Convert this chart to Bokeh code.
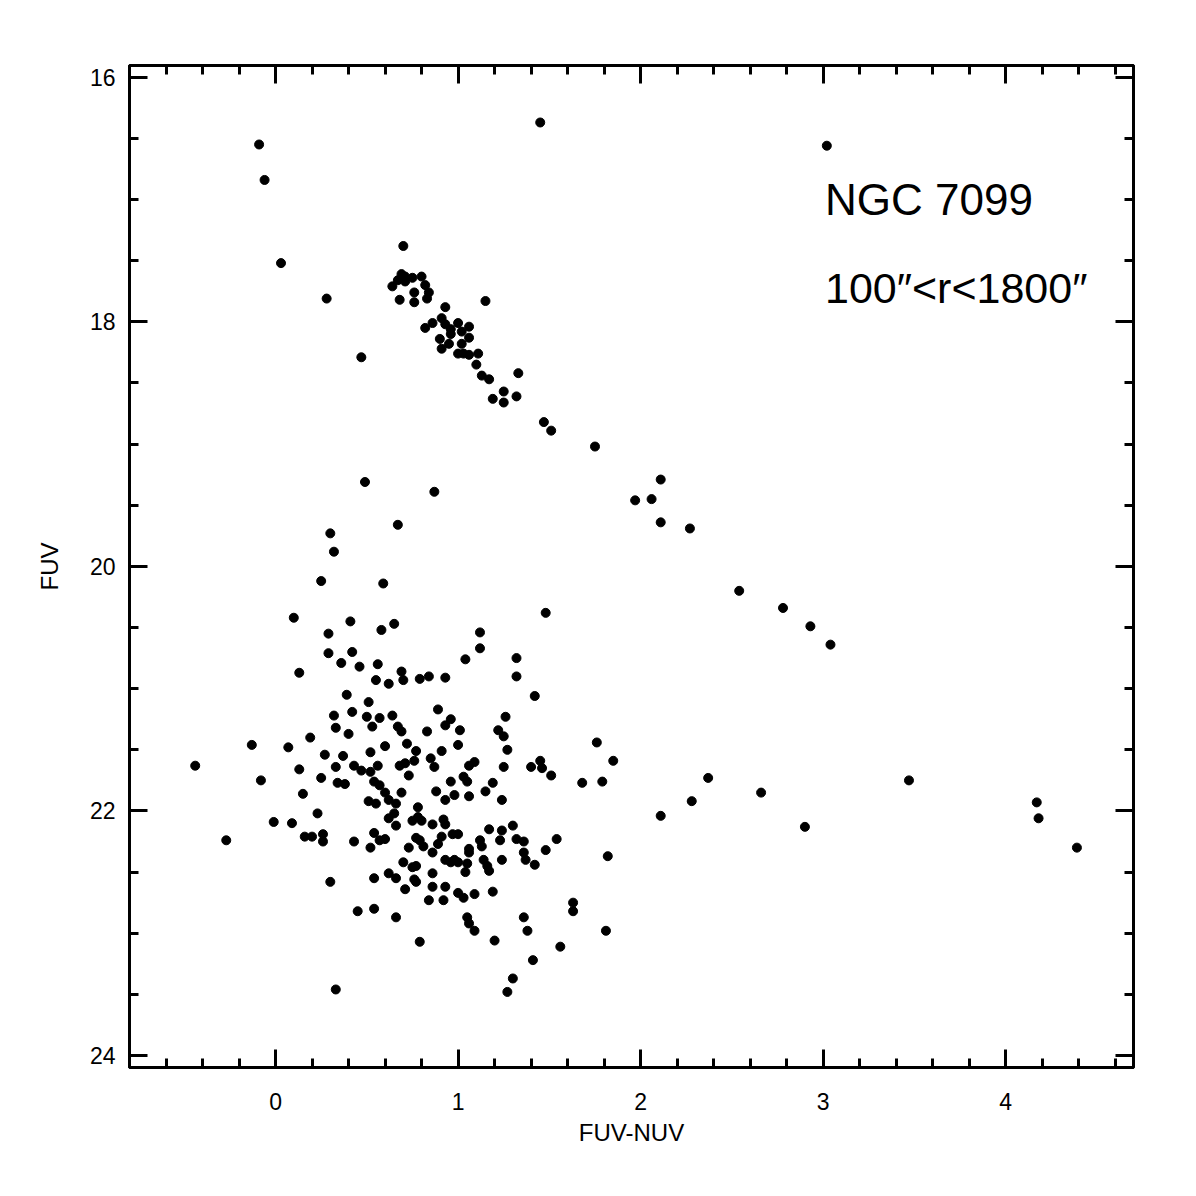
from bokeh.plotting import figure
from bokeh.models import Range1d, LinearAxis, FixedTicker, Label, CustomJSTickFormatter, ColumnDataSource
from bokeh.embed import file_html
from bokeh.resources import INLINE

# FUV-NUV colour and FUV magnitude of the stars
fuv_nuv = [
    -0.09, -0.06, 0.03, 0.28, 0.70, 0.47, 1.15, 1.45, 3.02,
    0.69, 0.67, 0.64, 0.71, 0.75, 0.80, 0.82, 0.76, 0.84, 0.68, 0.76, 0.83, 0.71,
    0.93, 0.91, 0.86, 0.82, 0.93, 0.96, 1.00, 1.06, 0.96, 1.02, 0.90, 0.95, 0.91, 1.02, 1.06, 1.00, 1.03, 1.06, 1.11, 1.10,
    1.13, 1.17, 1.33, 1.25, 1.19, 1.25, 1.32, 1.47, 1.51, 1.75, 1.97, 2.06, 2.11, 2.11, 2.27, 2.54, 2.78, 2.93, 3.04, 1.48,
    0.49, 0.87, 0.67, 0.30, 0.32, 0.25, 0.59, 0.10, 0.41, 0.58, 0.65, 0.29, 1.12,
    0.29, 0.42, 0.36, 0.46, 0.56, 0.13, 0.69, 0.70, 0.55, 0.62, 0.79, 0.39, 0.51, 0.42, 0.32, 0.50, 0.57, 0.64,
    0.33, 0.53, 0.40, 0.67, 0.69, 0.19, -0.13, 0.07, 0.60, 0.72, 0.77, 0.27, 0.37, 0.52, -0.44, 0.13, 0.33, 0.43,
    0.47, 0.52, 0.56, 0.68, 0.71, 0.76, 0.73, -0.08, 0.25, 0.34, 0.38, 0.54, 0.57, 0.15, 0.60, 0.69, 0.62, 0.66,
    0.51, 0.55, 0.23, 0.78, 0.65, 0.62, -0.01, 0.09, 0.75, 0.78, 0.66, -0.27, 0.16, 0.20, 0.26, 0.26, 0.43, 0.54,
    0.60, 0.57, 0.52, 0.73, 0.77,
    0.84, 0.93, 1.04, 1.12, 1.32, 1.32, 1.42, 0.89, 0.96, 0.93, 1.01, 0.83, 1.26, 1.22, 1.25, 1.27, 1.00, 0.91,
    0.85, 0.87, 1.06, 1.09, 1.25, 1.40, 1.45, 1.46, 1.51, 1.03, 1.05, 0.96, 1.19, 0.88, 0.98, 1.06, 1.15, 1.24,
    0.93, 0.80, 0.86, 0.92, 0.93, 1.17, 1.24, 1.30,
    0.79, 0.81, 0.89, 0.91, 0.97, 1.00, 0.86, 0.70, 0.75, 0.77, 0.93, 0.96, 0.98, 1.00, 1.05, 1.04, 1.06, 1.06,
    1.12, 1.13, 1.23, 1.32, 1.36, 1.36, 1.37, 1.42, 1.48, 1.24, 1.14, 1.16, 1.17,
    0.76, 0.77, 0.30, 0.54, 0.62, 0.66, 0.71, 0.45, 0.54, 0.66, 0.79, 0.33,
    0.86, 0.86, 0.93, 1.00, 1.03, 1.09, 1.19, 0.84, 0.92, 1.05, 1.06, 1.09, 1.36, 1.38,
    1.82, 1.63, 1.63, 1.81, 1.56, 1.41, 1.30, 1.27, 1.20, 1.54,
    1.76, 1.85, 1.68, 1.79, 2.28, 2.11,
    2.37, 2.66, 2.90, 3.47, 4.17, 4.18, 4.39,
]
fuv = [
    16.55, 16.84, 17.52, 17.81, 17.38, 18.29, 17.83, 16.37, 16.56,
    17.61, 17.66, 17.71, 17.67, 17.64, 17.63, 17.70, 17.76, 17.76, 17.82, 17.84, 17.81, 17.63,
    17.88, 17.97, 18.01, 18.05, 18.02, 18.06, 18.01, 18.04, 18.10, 18.08, 18.14, 18.18, 18.22, 18.18, 18.13, 18.26, 18.26, 18.27, 18.26, 18.35,
    18.44, 18.47, 18.42, 18.57, 18.63, 18.66, 18.61, 18.82, 18.89, 19.02, 19.46, 19.45, 19.29, 19.64, 19.69, 20.20, 20.34, 20.49, 20.64, 20.38,
    19.31, 19.39, 19.66, 19.73, 19.88, 20.12, 20.14, 20.42, 20.45, 20.52, 20.47, 20.55, 20.54,
    20.71, 20.70, 20.79, 20.82, 20.80, 20.87, 20.86, 20.93, 20.93, 20.96, 20.92, 21.05, 21.11, 21.19, 21.22, 21.23, 21.24, 21.22,
    21.32, 21.31, 21.37, 21.31, 21.35, 21.40, 21.46, 21.48, 21.47, 21.45, 21.51, 21.54, 21.55, 21.52, 21.63, 21.66, 21.64, 21.63,
    21.67, 21.68, 21.63, 21.63, 21.61, 21.59, 21.71, 21.75, 21.73, 21.77, 21.78, 21.76, 21.79, 21.86, 21.85, 21.85, 21.91, 21.94,
    21.92, 21.94, 22.02, 21.97, 22.02, 22.06, 22.09, 22.10, 22.08, 22.05, 22.12, 22.24, 22.21, 22.21, 22.19, 22.25, 22.25, 22.18,
    22.23, 22.24, 22.30, 22.30, 22.22,
    20.90, 20.91, 20.76, 20.67, 20.75, 20.90, 21.06, 21.17, 21.25, 21.30, 21.34, 21.35, 21.23, 21.34, 21.39, 21.50, 21.46, 21.51,
    21.57, 21.64, 21.63, 21.60, 21.64, 21.64, 21.59, 21.65, 21.71, 21.72, 21.76, 21.76, 21.77, 21.84, 21.87, 21.88, 21.84, 21.91,
    21.91, 22.08, 22.11, 22.07, 22.11, 22.15, 22.16, 22.12,
    22.24, 22.29, 22.27, 22.21, 22.19, 22.19, 22.34, 22.42, 22.46, 22.45, 22.40, 22.42, 22.40, 22.42, 22.43, 22.50, 22.34, 22.31,
    22.24, 22.29, 22.24, 22.23, 22.25, 22.34, 22.40, 22.44, 22.32, 22.40, 22.40, 22.45, 22.49,
    22.56, 22.58, 22.58, 22.55, 22.51, 22.55, 22.64, 22.82, 22.80, 22.87, 23.07, 23.46,
    22.51, 22.62, 22.62, 22.67, 22.71, 22.68, 22.66, 22.73, 22.73, 22.87, 22.92, 22.98, 22.87, 22.98,
    22.37, 22.75, 22.82, 22.98, 23.11, 23.22, 23.37, 23.48, 23.06, 22.23,
    21.44, 21.59, 21.77, 21.76, 21.92, 22.04,
    21.73, 21.85, 22.13, 21.75, 21.93, 22.06, 22.30,
]

x_major = [0, 1, 2, 3, 4]
x_minor = [round(-0.8 + 0.2 * i, 2) for i in range(28)]
y_major = [16, 18, 20, 22, 24]
y_minor = [16 + 0.5 * i for i in range(17)]

title_text = "NGC 7099"
radius_text = "100\u2033<r<1800\u2033"

src = ColumnDataSource(dict(x=fuv_nuv, y=fuv))

p = figure(width=1180, height=1180, output_backend="svg", toolbar_location=None,
           x_range=Range1d(-0.80, 4.70), y_range=Range1d(24.098, 15.904),
           min_border_left=129, min_border_right=47, min_border_top=65, min_border_bottom=113,
           background_fill_color="white", border_fill_color="white")
p.grid.visible = False
p.outline_line_color = "black"
p.outline_line_width = 3

p.scatter("x", "y", source=src, size=9, color="black", marker="circle")

font = "Liberation Sans"

def style(ax, labels=True):
    ax.axis_line_width = 3
    ax.axis_line_color = "black"
    ax.major_tick_in = 18
    ax.major_tick_out = 0
    ax.minor_tick_in = 9
    ax.minor_tick_out = 0
    ax.major_tick_line_width = 3
    ax.minor_tick_line_width = 3
    ax.major_tick_line_color = "black"
    ax.minor_tick_line_color = "black"
    ax.major_label_text_font = font
    ax.major_label_text_font_size = "23px"
    ax.major_label_text_color = "black"
    ax.axis_label_text_font = font
    ax.axis_label_text_font_size = "24px"
    ax.axis_label_text_font_style = "normal"
    ax.axis_label_text_color = "black"
    if not labels:
        ax.formatter = CustomJSTickFormatter(code="return ''")

xt = FixedTicker(ticks=x_major, minor_ticks=x_minor)
yt = FixedTicker(ticks=y_major, minor_ticks=y_minor)

p.xaxis.ticker = xt
p.yaxis.ticker = yt
style(p.xaxis[0])
style(p.yaxis[0])
p.xaxis.axis_label = "FUV-NUV"
p.yaxis.axis_label = "FUV"
p.xaxis.major_label_standoff = 25
p.xaxis.axis_label_standoff = 6
p.yaxis.major_label_standoff = 14
p.yaxis.axis_label_standoff = 24

top = LinearAxis(ticker=FixedTicker(ticks=x_major, minor_ticks=x_minor))
style(top, labels=False)
p.add_layout(top, "above")
right = LinearAxis(ticker=FixedTicker(ticks=y_major, minor_ticks=y_minor))
style(right, labels=False)
p.add_layout(right, "right")

p.add_layout(Label(x=3.01, y=17.0, text=title_text, text_font=font, text_font_size="44px",
                   text_color="black", text_baseline="alphabetic", text_align="left"))
p.add_layout(Label(x=3.01, y=17.72, text=radius_text, text_font=font, text_font_size="43px",
                   text_color="black", text_baseline="alphabetic", text_align="left"))

open("out.html", "w").write(file_html(p, INLINE))
